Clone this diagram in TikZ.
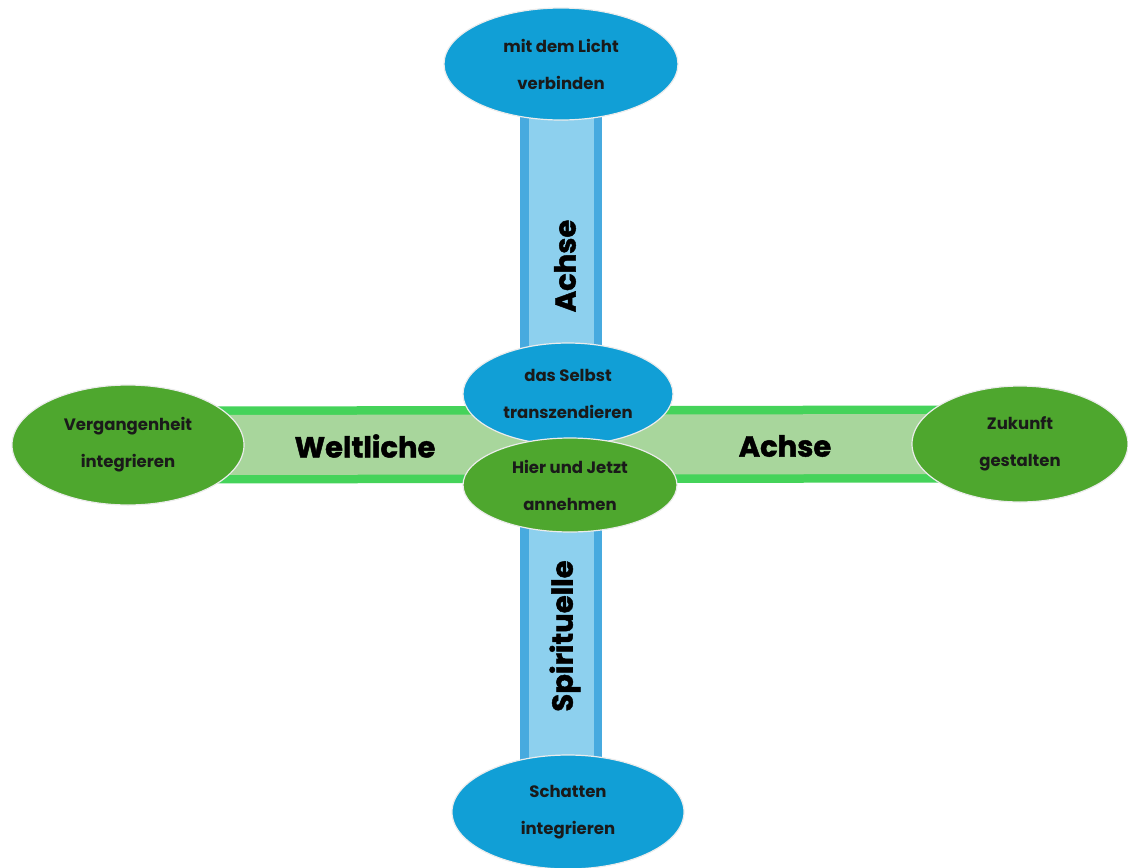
\documentclass[tikz,border=0pt]{standalone}
\usepackage{fontspec}
\setmainfont{Poppins}
\newfontfamily\heavyfont{Poppins}[BoldFeatures={FakeBold=1.6}]
\usetikzlibrary{shapes.geometric,backgrounds}
\definecolor{ballblue}{HTML}{119FD6}
\definecolor{ballgreen}{HTML}{4EA72E}
\definecolor{barblue}{HTML}{47AADF}
\definecolor{barbluein}{HTML}{8DD0EE}
\definecolor{bargreen}{HTML}{45D35A}
\definecolor{bargreenin}{HTML}{A8D69C}
\definecolor{textdark}{HTML}{1A1A1A}

\begin{document}
\begin{tikzpicture}[x=1pt,y=-1pt]
    \tikzset{blob/.style = {shape=ellipse,draw=gray!15,line width=1.2pt,inner sep=0pt,align=center,text=textdark,font=\bfseries\fontsize{16.5}{37}\selectfont}}
    \tikzset{blueblob/.style = {blob,fill=ballblue}}
    \tikzset{greenblob/.style = {blob,fill=ballgreen}}
    \tikzset{axislabel/.style = {font=\heavyfont\bfseries\fontsize{29}{29}\selectfont,text=black}}
    \useasboundingbox (0,0) rectangle (1128,868);
    % vertices
    \node[blueblob,minimum width=234pt,minimum height=112pt] (licht) at (561,64) {mit dem Licht\\verbinden};
    \node[blueblob,minimum width=210pt,minimum height=102pt] (selbst) at (568,394) {das Selbst\\transzendieren};
    \node[greenblob,minimum width=214pt,minimum height=94pt] (jetzt) at (570,485) {Hier und Jetzt\\annehmen};
    \node[greenblob,minimum width=232pt,minimum height=120pt] (vergangen) at (128,445) {Vergangenheit\\integrieren};
    \node[greenblob,minimum width=216pt,minimum height=116pt] (zukunft) at (1020,444) {Zukunft\\gestalten};
    \node[blueblob,minimum width=232pt,minimum height=114pt] (schatten) at (568,812) {Schatten\\integrieren};
    % labels
    \node[axislabel,rotate=90] (achseoben) at (565,266) {Achse};
    \node[axislabel,rotate=90] (spirituell) at (565,636) {Spirituelle};
    \node[axislabel] (weltlich) at (365,446) {Weltliche};
    \node[axislabel] (achserechts) at (785,446) {Achse};
    %edges
    \begin{pgfonlayer}{background}
    \draw[line width=82pt,barblue] (licht.center) -- (licht |- schatten.center);
    \draw[line width=65pt,barbluein] (licht.center) -- (licht |- schatten.center);
    \draw[line width=77pt,bargreen] (vergangen.center) -- (zukunft.center);
    \draw[line width=60pt,bargreenin] (vergangen.center) -- (zukunft.center);
    \end{pgfonlayer}
\end{tikzpicture}
\end{document}
